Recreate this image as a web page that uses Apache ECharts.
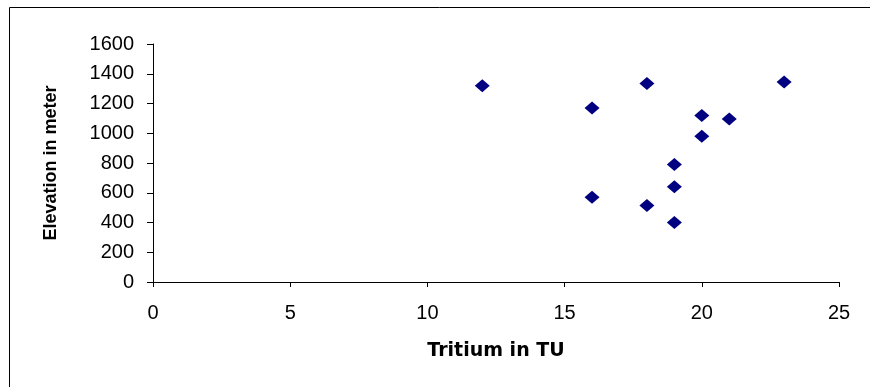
<!DOCTYPE html>
<html>
<head>
<meta charset="utf-8">
<script src="https://cdn.jsdelivr.net/npm/echarts@6/dist/echarts.min.js"></script>
<style>
html,body{margin:0;padding:0;background:#fff;}
#chart{width:870px;height:387px;}
</style>
</head>
<body>
<div id="chart"></div>
<script>
var tritium = [12, 18, 23, 16, 20, 21, 20, 19, 19, 16, 18, 19];
var elevation = [1320, 1335, 1345, 1170, 1120, 1095, 980, 790, 640, 570, 515, 400];
var xTitle = 'Tritium in TU';
var yTitle = 'Elevation in meter';

var points = tritium.map(function (t, i) { return [t, elevation[i]]; });

var chart = echarts.init(document.getElementById('chart'), null, {renderer: 'canvas'});
chart.setOption({
  animation: false,
  backgroundColor: '#ffffff',
  grid: {left: 153, top: 44, width: 686, height: 238, containLabel: false},
  xAxis: {
    type: 'value', min: 0, max: 25, interval: 5,
    name: xTitle, nameLocation: 'middle', nameGap: 60,
    nameTextStyle: {fontFamily: 'DejaVu Sans', fontWeight: 'bold', fontSize: 19, color: '#000'},
    axisLine: {show: true, onZero: false, lineStyle: {color: '#000', width: 1}},
    axisTick: {show: true, length: 5, lineStyle: {color: '#000'}},
    axisLabel: {margin: 21, fontFamily: 'Liberation Sans', fontSize: 20, color: '#000',
      formatter: function (v) { return String(v); }},
    splitLine: {show: false}
  },
  yAxis: {
    type: 'value', min: 0, max: 1600, interval: 200,
    name: yTitle, nameLocation: 'middle', nameGap: 93, nameRotate: 90,
    nameTextStyle: {fontFamily: 'Liberation Sans', fontWeight: 'bold', fontSize: 18, color: '#000'},
    axisLine: {show: true, lineStyle: {color: '#000', width: 1}},
    axisTick: {show: true, length: 6, lineStyle: {color: '#000'}},
    axisLabel: {margin: 19, fontFamily: 'Liberation Sans', fontSize: 20, color: '#000',
      formatter: function (v) { return String(v); }},
    splitLine: {show: false}
  },
  series: [{
    type: 'scatter',
    data: points,
    symbol: 'diamond',
    symbolSize: [15, 13],
    itemStyle: {color: '#000080', opacity: 1}
  }],
  graphic: [
    {type: 'line', shape: {x1: 9.5, y1: 7.5, x2: 870, y2: 7.5}, style: {stroke: '#000', lineWidth: 1}},
    {type: 'line', shape: {x1: 9.5, y1: 7.5, x2: 9.5, y2: 387}, style: {stroke: '#000', lineWidth: 1}}
  ]
});
</script>
</body>
</html>
